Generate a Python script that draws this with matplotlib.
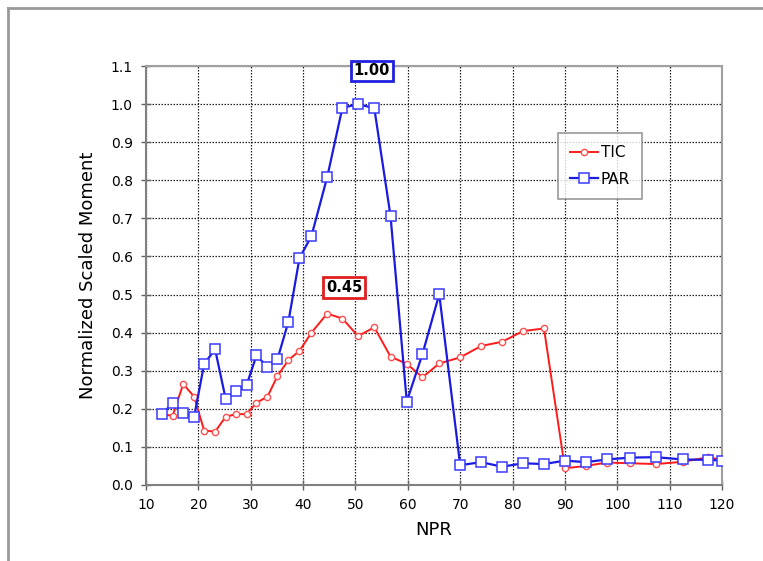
import matplotlib.pyplot as plt
from matplotlib.lines import Line2D

npr = [13.1, 15.1, 17.1, 19.2, 21.1, 23.2, 25.2, 27.2, 29.2, 31.1, 33.2, 35.1,
       37.2, 39.3, 41.6, 44.6, 47.5, 50.5, 53.6, 56.7, 59.8, 62.8, 66.0, 70.0,
       74.0, 78.0, 82.0, 86.0, 90.0, 94.0, 98.0, 102.5, 107.4, 112.5, 117.4, 120.0]
tic = [0.185, 0.182, 0.265, 0.232, 0.143, 0.140, 0.179, 0.186, 0.186, 0.216, 0.232, 0.286,
       0.328, 0.352, 0.400, 0.450, 0.437, 0.391, 0.414, 0.337, 0.318, 0.283, 0.319, 0.335,
       0.365, 0.376, 0.404, 0.411, 0.044, 0.050, 0.059, 0.057, 0.055, 0.061, 0.073, 0.066]
par = [0.186, 0.216, 0.188, 0.179, 0.318, 0.356, 0.227, 0.248, 0.262, 0.340, 0.310, 0.330,
       0.429, 0.595, 0.654, 0.808, 0.990, 1.000, 0.989, 0.706, 0.219, 0.344, 0.501, 0.052,
       0.060, 0.048, 0.057, 0.055, 0.064, 0.060, 0.067, 0.072, 0.073, 0.067, 0.066, 0.064]

plt.rcParams['font.family'] = ['DejaVu Sans']

fig = plt.figure(figsize=(7.63, 5.61), dpi=100)
ax = fig.add_axes([146 / 763, 1 - 485 / 561, 576 / 763, 419 / 561])

# outer chart frame (left and top edges visible)
fig.add_artist(Line2D([8 / 763, 8 / 763], [0, 1 - 8 / 561], transform=fig.transFigure,
                      color='#9a9a9a', lw=2))
fig.add_artist(Line2D([8 / 763, 1], [1 - 8 / 561, 1 - 8 / 561], transform=fig.transFigure,
                      color='#9a9a9a', lw=2))

ax.plot(npr, tic, color='#ff1a1a', lw=1.4, marker='o', ms=4.5, mfc='white',
        mec='#ff5050', mew=1, label='TIC', zorder=3)
ax.plot(npr, par, color='#1a1ae0', lw=1.6, marker='s', ms=7.5, mfc='white',
        mec='#3a3aff', mew=1.1, label='PAR', zorder=4)

ax.set_xlim(10, 120)
ax.set_ylim(0, 1.1)
ax.set_xticks(range(10, 121, 10))
ax.set_yticks([i / 10 for i in range(12)])
ax.set_yticklabels([f'{i / 10:.1f}' for i in range(12)])
ax.grid(True, color='#222222', ls=(0, (1.2, 1.2)), lw=0.9)
ax.set_axisbelow(True)
for s in ax.spines.values():
    s.set_color('#a0a0a0')
    s.set_linewidth(1.5)
ax.spines['left'].set_color('#808080')
ax.spines['bottom'].set_color('#808080')
ax.tick_params(direction='inout', length=7, width=1, color='#606060',
               labelsize=10, pad=6)

ax.set_xlabel('NPR', fontsize=13, labelpad=6)
ax.set_ylabel('Normalized Scaled Moment', fontsize=13, labelpad=10)

ax.text(53.1, 1.087, '1.00', ha='center', va='center', fontsize=10.5, fontweight='bold',
        bbox=dict(boxstyle='square,pad=0.2', fc='white', ec='#2020e0', lw=2), zorder=5)
ax.text(47.8, 0.518, '0.45', ha='center', va='center', fontsize=10.5, fontweight='bold',
        bbox=dict(boxstyle='square,pad=0.2', fc='white', ec='#e02020', lw=2), zorder=5)

leg = ax.legend(loc='upper left', bbox_to_anchor=((558 - 146) / 576, (485 - 133) / 419),
                fontsize=11, frameon=True, fancybox=False, edgecolor='#808080',
                handlelength=1.8, borderpad=0.8, labelspacing=0.75, handletextpad=0.2,
                borderaxespad=0)
leg.get_frame().set_linewidth(1.2)

fig.savefig('out.png', dpi=100)
